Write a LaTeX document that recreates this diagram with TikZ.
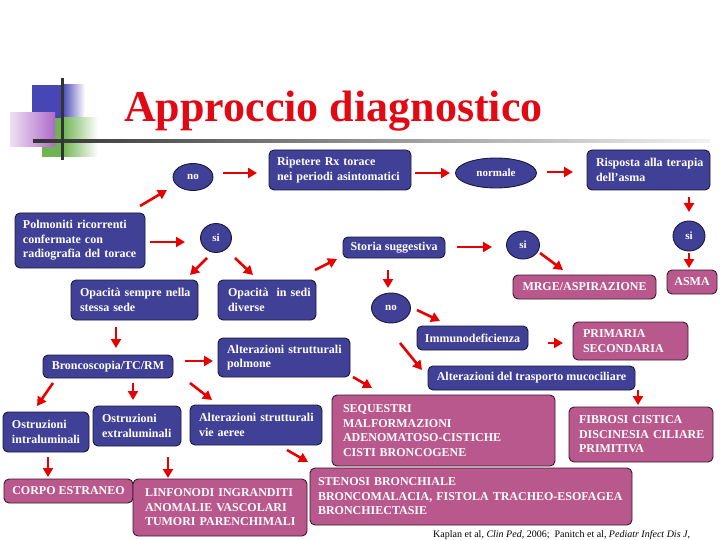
\documentclass[tikz,border=0pt]{standalone}
\usepackage{fontspec}
\setmainfont{Liberation Serif}
\usetikzlibrary{shapes.geometric,arrows.meta}
\definecolor{nblue}{RGB}{64,64,150}
\definecolor{bdark}{RGB}{25,25,60}
\definecolor{npink}{RGB}{185,88,140}
\definecolor{pdark}{RGB}{60,25,45}
\definecolor{tred}{RGB}{225,10,20}
\definecolor{ared}{RGB}{230,0,0}
\definecolor{dblue}{RGB}{70,70,180}
\definecolor{dgreen}{RGB}{110,180,80}
\definecolor{dpurple}{RGB}{175,105,200}
\newcommand{\fsz}{\fontsize{12}{14.5}\selectfont\bfseries}
\newcommand{\ml}[1]{\mbox{#1}}
\begin{document}
\begin{tikzpicture}[x=1pt,y=-1pt,
  nd/.style={rounded corners=5pt, line width=0.9pt, text=white, font=\fsz, inner sep=0pt, align=center},
  bl/.style={nd, fill=nblue, draw=bdark},
  pk/.style={nd, fill=npink, draw=pdark},
  ov/.style={ellipse, fill=nblue, draw=bdark, line width=0.9pt, inner sep=0pt, text=white, font=\fontsize{11}{12}\selectfont\bfseries},
  arr/.style={draw=ared, line width=2.6pt, -{Triangle[length=9pt,width=10pt]}}]
\useasboundingbox (0,0) rectangle (720,540);
% decoration
\fill[dblue] (32,85) rectangle (62,118);
\shade[left color=dblue, right color=white] (62,85) rectangle (85,118);
\fill[dgreen] (42,118) rectangle (62,157);
\shade[left color=dgreen, right color=white] (62,118) rectangle (98,157);
\shade[left color=dpurple!20, right color=dpurple] (10,113) rectangle (55,147);
\shade[left color=black!80, middle color=black!55, right color=black!5] (33,139.5) rectangle (710,142.5);
\fill[black!80] (60.5,78) rectangle (63.5,160);
% title
\node[anchor=base west, text=tred, font=\fontsize{44}{50}\selectfont\bfseries, inner sep=0pt] (title) at (124,122) {Approccio diagnostico};
% ovals
\node[ov, minimum width=40pt, minimum height=27pt] (no1) at (193,177) {no};
\node[ov, minimum width=81pt, minimum height=30pt] (normale) at (496,173) {normale};
\node[ov, minimum width=32pt, minimum height=30pt] (si3) at (689,236) {si};
\node[ov, minimum width=33pt, minimum height=28pt] (si2) at (523,245) {si};
\node[ov, minimum width=31pt, minimum height=29pt] (si1) at (216,238) {si};
\node[ov, minimum width=39pt, minimum height=30pt] (no2) at (391,308) {no};
% blue boxes
\node[bl, align=left, text width=126pt, inner xsep=8pt, minimum height=40pt] (rip) at (340,170) {\ml{Ripetere Rx torace}\\\ml{nei periodi asintomatici}};
\node[bl, align=left, text width=105pt, inner xsep=9pt, minimum height=40pt] (risp) at (648.5,170) {\ml{Risposta alla terapia}\\\ml{dell'asma}};
\node[bl, align=left, text width=114pt, inner xsep=8pt, minimum height=55pt] (pol) at (80,240.5) {\ml{Polmoniti ricorrenti}\\\ml{confermate con}\\\ml{radiografia del torace}};
\node[bl, align=left, text width=109pt, inner xsep=9pt, minimum height=40pt] (opsem) at (134.5,300) {\ml{Opacità sempre nella}\\\ml{stessa sede}};
\node[bl, align=left, text width=78pt, inner xsep=10pt, minimum height=40pt] (opdiv) at (267,300) {\ml{Opacità\ \ in sedi}\\\ml{diverse}};
\node[bl, minimum width=102pt, minimum height=21pt] (storia) at (394,247.5) {Storia suggestiva};
\node[bl, minimum width=130pt, minimum height=23pt] (bronc) at (108,366.5) {Broncoscopia/TC/RM};
\node[bl, align=left, text width=114pt, inner xsep=9pt, minimum height=39pt] (altpol) at (284,357.5) {\ml{Alterazioni strutturali}\\\ml{polmone}};
\node[bl, minimum width=111pt, minimum height=24pt] (immuno) at (472.5,338) {Immunodeficienza};
\node[bl, minimum width=207pt, minimum height=24pt] (trasp) at (531.5,378) {Alterazioni del trasporto mucociliare};
\node[bl, align=left, text width=68pt, inner xsep=9pt, minimum height=40pt] (ostint) at (46,432) {\ml{Ostruzioni}\\\ml{intraluminali}};
\node[bl, align=left, text width=70pt, inner xsep=9pt, minimum height=40pt] (ostext) at (137,426) {\ml{Ostruzioni}\\\ml{extraluminali}};
\node[bl, align=left, text width=114pt, inner xsep=9pt, minimum height=40pt] (altvie) at (256,425) {\ml{Alterazioni strutturali}\\\ml{vie aeree}};
% pink boxes
\node[pk, minimum width=50pt, minimum height=24pt] (asma) at (692,282) {ASMA};
\node[pk, minimum width=143pt, minimum height=24pt] (mrge) at (584.5,287) {MRGE/ASPIRAZIONE};
\node[pk, align=left, text width=95pt, inner xsep=10pt, minimum height=38pt] (prim) at (630.5,341) {\ml{PRIMARIA}\\\ml{SECONDARIA}};
\node[pk, align=left, text width=201pt, inner xsep=11pt, minimum height=71pt] (seq) at (443.5,430.5) {\ml{SEQUESTRI}\\\ml{MALFORMAZIONI}\\\ml{ADENOMATOSO-CISTICHE}\\\ml{CISTI BRONCOGENE}};
\node[pk, align=left, text width=124pt, inner xsep=10pt, minimum height=55pt] (fib) at (641,434.5) {\ml{FIBROSI CISTICA}\\\ml{DISCINESIA CILIARE}\\\ml{PRIMITIVA}};
\node[pk, minimum width=129pt, minimum height=24pt] (corpo) at (68.5,491) {CORPO ESTRANEO};
\node[pk, align=left, text width=150pt, inner xsep=12pt, minimum height=57pt] (linf) at (220,507.5) {\ml{LINFONODI INGRANDITI}\\\ml{ANOMALIE VASCOLARI}\\\ml{TUMORI PARENCHIMALI}};
\node[pk, align=left, text width=306pt, inner xsep=8pt, minimum height=57pt] (sten) at (471,496.5) {\ml{STENOSI BRONCHIALE}\\\ml{BRONCOMALACIA, FISTOLA TRACHEO-ESOFAGEA}\\\ml{BRONCHIECTASIE}};
% citation
\node[anchor=base west, inner sep=0pt, font=\fontsize{10}{12}\selectfont] (cite) at (433,537) {Kaplan et al, \textit{Clin Ped,} 2006;\ \ Panitch et al, \textit{Pediatr Infect Dis J},};
% arrows
\draw[arr] ([shift={(60,-34.5)}]pol.center) -- ([shift={(-26,13)}]no1.center);
\draw[arr] ([shift={(30,-4)}]no1.center) -- ([shift={(-83,3)}]rip.center);
\draw[arr] ([shift={(75,3)}]rip.center) -- ([shift={(-46,0)}]normale.center);
\draw[arr] ([shift={(51,-1)}]normale.center) -- ([shift={(-75.5,2)}]risp.center);
\draw[arr] ([shift={(40.5,27)}]risp.center) -- ([shift={(0,-24)}]si3.center);
\draw[arr] ([shift={(0,17)}]si3.center) -- ([shift={(-3,-14)}]asma.center);
\draw[arr] ([shift={(70,1.5)}]pol.center) -- ([shift={(-31,4)}]si1.center);
\draw[arr] ([shift={(-9,20)}]si1.center) -- ([shift={(55.5,-25)}]opsem.center);
\draw[arr] ([shift={(19,20)}]si1.center) -- ([shift={(-14,-25)}]opdiv.center);
\draw[arr] ([shift={(48,-30)}]opdiv.center) -- ([shift={(-57,11.5)}]storia.center);
\draw[arr] ([shift={(63,-0.5)}]storia.center) -- ([shift={(-31,2)}]si2.center);
\draw[arr] ([shift={(17,8)}]si2.center) -- ([shift={(-21.5,-17)}]mrge.center);
\draw[arr] ([shift={(-6,22.5)}]storia.center) -- ([shift={(-3,-20)}]no2.center);
\draw[arr] ([shift={(26,2)}]no2.center) -- ([shift={(-32.5,-17)}]immuno.center);
\draw[arr] ([shift={(9,35)}]no2.center) -- ([shift={(-109.5,-8)}]trasp.center);
\draw[arr] ([shift={(75.5,5)}]immuno.center) -- ([shift={(-67.5,2)}]prim.center);
\draw[arr] ([shift={(106.5,12)}]trasp.center) -- ([shift={(-3,-29.5)}]fib.center);
\draw[arr] ([shift={(-18.5,27)}]opsem.center) -- ([shift={(8,-18.5)}]bronc.center);
\draw[arr] ([shift={(77,-5.5)}]bronc.center) -- ([shift={(-71,3.5)}]altpol.center);
\draw[arr] ([shift={(-55,16.5)}]bronc.center) -- ([shift={(-9,-26)}]ostint.center);
\draw[arr] ([shift={(25,16.5)}]bronc.center) -- ([shift={(-4,-26)}]ostext.center);
\draw[arr] ([shift={(82,16.5)}]bronc.center) -- ([shift={(-44,-25)}]altvie.center);
\draw[arr] ([shift={(69,19.5)}]altpol.center) -- ([shift={(-71.5,-42.5)}]seq.center);
\draw[arr] ([shift={(31,25)}]altvie.center) -- ([shift={(-163,-34.5)}]sten.center);
\draw[arr] ([shift={(2,25)}]ostint.center) -- ([shift={(-20.5,-14)}]corpo.center);
\draw[arr] ([shift={(31,31)}]ostext.center) -- ([shift={(-52,-29.5)}]linf.center);
\end{tikzpicture}
\end{document}
